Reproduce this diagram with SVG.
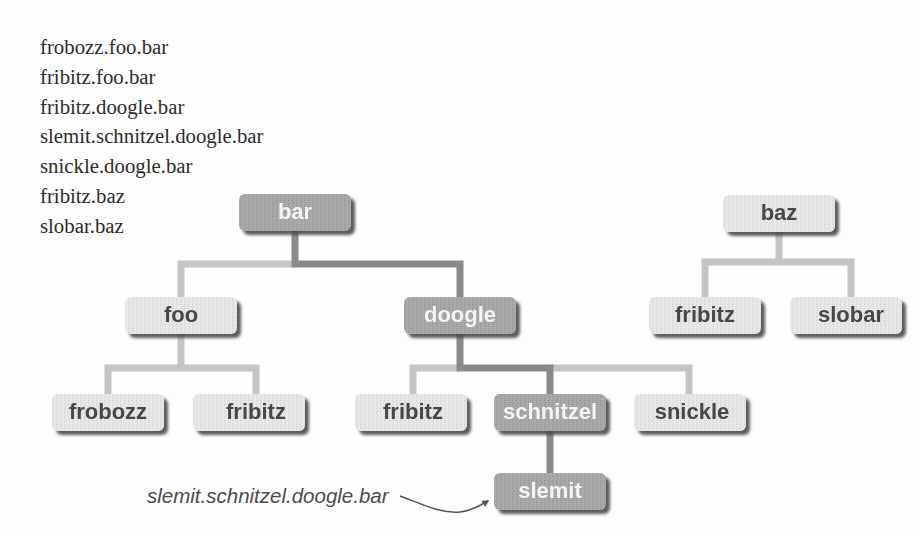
<svg xmlns="http://www.w3.org/2000/svg" width="917" height="534" viewBox="0 0 917 534">
  <defs>
    <!-- stippled fills for the two kinds of boxes -->
    <pattern id="grainLight" width="4" height="4" patternUnits="userSpaceOnUse">
      <rect width="4" height="4" fill="#e5e5e5"/>
      <rect x="0" y="0" width="1" height="1" fill="#d0d0d0"/>
      <rect x="2" y="1" width="1" height="1" fill="#f2f2f2"/>
      <rect x="1" y="2" width="1" height="1" fill="#d5d5d5"/>
      <rect x="3" y="3" width="1" height="1" fill="#f0f0f0"/>
    </pattern>
    <pattern id="grainDark" width="4" height="4" patternUnits="userSpaceOnUse">
      <rect width="4" height="4" fill="#a6a6a6"/>
      <rect x="0" y="0" width="1" height="1" fill="#939393"/>
      <rect x="2" y="1" width="1" height="1" fill="#b6b6b6"/>
      <rect x="1" y="2" width="1" height="1" fill="#989898"/>
      <rect x="3" y="3" width="1" height="1" fill="#b3b3b3"/>
    </pattern>
    <filter id="drop" x="-10%" y="-20%" width="125%" height="150%">
      <feGaussianBlur in="SourceAlpha" stdDeviation="1.4"/>
      <feOffset dx="3.5" dy="3.5" result="off"/>
      <feFlood flood-color="#4a4a4a" flood-opacity="0.9"/>
      <feComposite in2="off" operator="in" result="shadow"/>
      <feMerge>
        <feMergeNode in="shadow"/>
        <feMergeNode in="SourceGraphic"/>
      </feMerge>
    </filter>
    <marker id="tip" viewBox="0 0 10 10" refX="8" refY="5" markerWidth="7" markerHeight="7" orient="auto" markerUnits="userSpaceOnUse">
      <path d="M0,0 L10,5 L0,10 Z" fill="#555"/>
    </marker>
    <style>
      .list { font-family: "Liberation Serif", "Times New Roman", serif; font-size: 20.8px; fill: #2c2c2c; }
      .box { stroke: none; }
      .light .box { fill: url(#grainLight); }
      .dark .box { fill: url(#grainDark); }
      .lbl { font-family: "Liberation Sans", Arial, sans-serif; font-weight: bold; font-size: 22px; text-anchor: middle; }
      .light .lbl { fill: #474747; }
      .dark .lbl { fill: #f4f4f4; }
      .wire { fill: none; stroke-width: 7; stroke-linejoin: miter; stroke-linecap: butt; }
      .wire-light { stroke: #c4c4c4; }
      .wire-dark { stroke: #8a8a8a; }
      .note { font-family: "Liberation Sans", Arial, sans-serif; font-style: italic; font-size: 20.5px; fill: #4c4c4c; }
    </style>
  </defs>

  <rect width="917" height="534" fill="#fdfdfd"/>

  <!-- list of qualified names -->
  <g id="names" class="list">
    <text x="40" y="54">frobozz.foo.bar</text>
    <text x="40" y="83.8">fribitz.foo.bar</text>
    <text x="40" y="113.6">fribitz.doogle.bar</text>
    <text x="40" y="143.4">slemit.schnitzel.doogle.bar</text>
    <text x="40" y="173.2">snickle.doogle.bar</text>
    <text x="40" y="203">fribitz.baz</text>
    <text x="40" y="232.8">slobar.baz</text>
  </g>

  <!-- tree connectors -->
  <g id="connectors">
    <g class="wire wire-light">
      <path d="M181,297 V264 H295"/>
      <path d="M181,334 V368"/>
      <path d="M108,394 V368 H256 V394"/>
      <path d="M779,231 V262"/>
      <path d="M705,297 V262 H851 V297"/>
      <path d="M413,394 V368 H460"/>
      <path d="M550,368 H689 V394"/>
    </g>
    <g class="wire wire-dark">
      <path d="M295,231 V264 H460 V297"/>
      <path d="M460,334 V368 H550 V394"/>
      <path d="M550,431 V473"/>
    </g>
    <path d="M400,496 C420,503 440,514 460,512 C470,511 478,507 488,501" fill="none" stroke="#555" stroke-width="1.5" marker-end="url(#tip)"/>
  </g>

  <!-- nodes -->
  <g id="node-bar" class="dark" filter="url(#drop)">
    <rect class="box" x="239" y="194" width="112" height="37" rx="6"/>
    <text class="lbl" x="295" y="219">bar</text>
  </g>
  <g id="node-baz" class="light" filter="url(#drop)">
    <rect class="box" x="723" y="195" width="112" height="37" rx="6"/>
    <text class="lbl" x="779" y="220">baz</text>
  </g>
  <g id="node-foo" class="light" filter="url(#drop)">
    <rect class="box" x="125" y="297" width="112" height="37" rx="6"/>
    <text class="lbl" x="181" y="322">foo</text>
  </g>
  <g id="node-doogle" class="dark" filter="url(#drop)">
    <rect class="box" x="404" y="297" width="112" height="37" rx="6"/>
    <text class="lbl" x="460" y="322">doogle</text>
  </g>
  <g id="node-fribitz-baz" class="light" filter="url(#drop)">
    <rect class="box" x="649" y="297" width="112" height="37" rx="6"/>
    <text class="lbl" x="705" y="322">fribitz</text>
  </g>
  <g id="node-slobar" class="light" filter="url(#drop)">
    <rect class="box" x="790" y="297" width="112" height="37" rx="6"/>
    <text class="lbl" x="851" y="322">slobar</text>
  </g>
  <g id="node-frobozz" class="light" filter="url(#drop)">
    <rect class="box" x="52" y="394" width="112" height="37" rx="6"/>
    <text class="lbl" x="108" y="419">frobozz</text>
  </g>
  <g id="node-fribitz-foo" class="light" filter="url(#drop)">
    <rect class="box" x="193" y="394" width="112" height="37" rx="6"/>
    <text class="lbl" x="256" y="419">fribitz</text>
  </g>
  <g id="node-fribitz-doogle" class="light" filter="url(#drop)">
    <rect class="box" x="355" y="394" width="112" height="37" rx="6"/>
    <text class="lbl" x="413" y="419">fribitz</text>
  </g>
  <g id="node-schnitzel" class="dark" filter="url(#drop)">
    <rect class="box" x="494" y="394" width="112" height="37" rx="6"/>
    <text class="lbl" x="550" y="419">schnitzel</text>
  </g>
  <g id="node-snickle" class="light" filter="url(#drop)">
    <rect class="box" x="634" y="394" width="112" height="37" rx="6"/>
    <text class="lbl" x="692" y="419">snickle</text>
  </g>
  <g id="node-slemit" class="dark" filter="url(#drop)">
    <rect class="box" x="494" y="473" width="112" height="37" rx="6"/>
    <text class="lbl" x="550" y="498">slemit</text>
  </g>

  <!-- callout label -->
  <text id="callout" class="note" x="147" y="503">slemit.schnitzel.doogle.bar</text>
</svg>
